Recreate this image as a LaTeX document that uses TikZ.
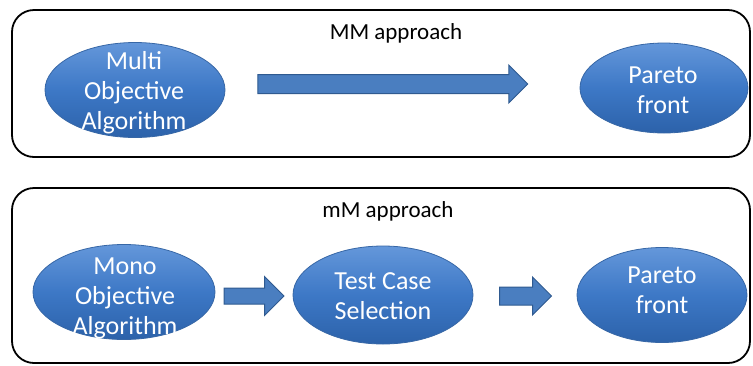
\documentclass[tikz,border=0pt]{standalone}
\usepackage{fontspec}
\setmainfont{Carlito}
\usetikzlibrary{shapes.geometric,shapes.arrows}
\definecolor{blobtop}{HTML}{6497DA}
\definecolor{blobmid}{HTML}{3D78C6}
\definecolor{blobbot}{HTML}{2C62AA}
\definecolor{blobedge}{HTML}{3767A6}
\definecolor{arrfill}{HTML}{4A7EC0}
\definecolor{arredge}{HTML}{2F5A90}
\begin{document}
\begin{tikzpicture}[x=1pt,y=-1pt,
  panel/.style={draw=black,line width=1.8pt,rounded corners=22pt,inner sep=0pt},
  blob/.style={ellipse,inner sep=0pt,draw=blobedge,line width=0.8pt,
    top color=blobtop,bottom color=blobbot,middle color=blobmid},
  blobtext/.style={text=white,align=center,font=\fontsize{26}{30}\selectfont,inner sep=0pt},
  heading/.style={font=\fontsize{23}{28}\selectfont,inner sep=0pt},
  blockarrow/.style={single arrow,draw=arredge,fill=arrfill,line width=1pt,inner xsep=0pt}]
\useasboundingbox (0,0) rectangle (753,365);

% panels
\node[panel,minimum width=738pt,minimum height=147pt] (mmbox) at (381,83.5) {};
\node[panel,minimum width=738pt,minimum height=175pt] (mmmbox) at (381,275.5) {};

% headings
\node[heading,anchor=base] (mmlabel) at (396,39) {MM approach};
\node[heading,anchor=base] (mmmlabel) at (388,217) {mM approach};

% top row
\node[blob,minimum width=180pt,minimum height=95pt] (moa) at (135,90) {};
\node[blobtext] (moatext) at (134,93) {Multi\\Objective\\Algorithm};
\node[blob,minimum width=168pt,minimum height=90pt] (pf1) at (664,88) {};
\node[blobtext] (pf1text) at (663,90) {Pareto\\front};
\node[blockarrow,minimum height=270pt,inner ysep=9pt,single arrow head extend=9.5pt] (arrA) at (388,84) {};

% bottom row
\node[blob,minimum width=182pt,minimum height=95pt] (mono) at (124,292) {};
\node[blobtext] (monotext) at (125,298) {Mono\\Objective\\Algorithm};
\node[blob,minimum width=180pt,minimum height=98pt] (tcs) at (383,295) {};
\node[blobtext] (tcstext) at (383,296) {Test Case\\Selection};
\node[blob,minimum width=170pt,minimum height=95pt] (pf2) at (662,295) {};
\node[blobtext] (pf2text) at (662,290) {Pareto\\front};
\node[blockarrow,minimum height=60pt,inner ysep=7.5pt,single arrow head extend=11.5pt] (arrB) at (250,296) {};
\node[blockarrow,minimum height=52pt,inner ysep=8.5pt,single arrow head extend=10pt] (arrC) at (521,296) {};
\end{tikzpicture}
\end{document}
